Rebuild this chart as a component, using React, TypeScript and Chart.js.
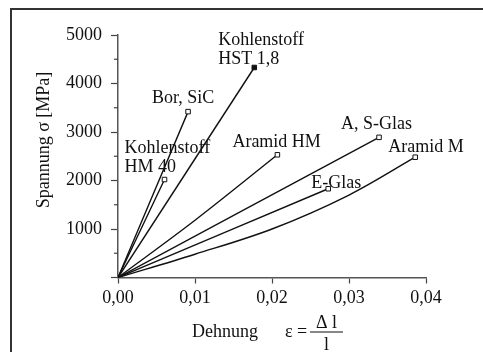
import React, { useEffect, useRef } from 'react';
import { Chart, registerables } from 'chart.js';

Chart.register(...registerables);

// ---- data ----
const strainTicks = [0, 0.01, 0.02, 0.03, 0.04];
const stressTicks = [0, 1000, 2000, 3000, 4000, 5000];
const stressMinorTicks = [500, 1500, 2500, 3500, 4500];

const hm40Strain = [0, 0.00604];
const hm40Stress = [0, 2020];

const borStrain = [0, 0.0091];
const borStress = [0, 3420];

const hstStrain = [0, 0.0177];
const hstStress = [0, 4330];

const aramidHmStrain = [0, 0.01, 0.0207];
const aramidHmStress = [0, 1180, 2530];

const asGlasStrain = [0, 0.0339];
const asGlasStress = [0, 2890];

const eGlasStrain = [0, 0.0273];
const eGlasStress = [0, 1830];

const aramidMStrain = [0, 0.01, 0.02, 0.03, 0.0386];
const aramidMStress = [0, 480, 1000, 1700, 2480];

const seriesLabels = [
  ['Kohlenstoff', 'HM 40'],
  ['Bor, SiC'],
  ['Kohlenstoff', 'HST 1,8'],
  ['Aramid HM'],
  ['A, S-Glas'],
  ['E-Glas'],
  ['Aramid M'],
];

const yTitle = 'Spannung σ [MPa]';
const xTitle = 'Dehnung';
const xFormulaLeft = 'ε =';
const xFormulaNum = 'Δ l';
const xFormulaDen = 'l';

// ---- styles / layout ----
const FONT = '"Liberation Serif", "Times New Roman", serif';
const FS = 18;
// label offsets (dx, dy of each line's baseline) relative to the series end point
const labelOffsets = [
  [[-40, -27], [-40, -8]],
  [[-36, -9]],
  [[-36, -22], [-36, -3]],
  [[-45, -8]],
  [[-38, -8]],
  [[-17, -1]],
  [[-27, -5]],
];
const filledMarker = [false, false, true, false, false, false, false];

function pts(xs: number[], ys: number[]) {
  return xs.map((x, i) => ({ x, y: ys[i] }));
}

const seriesData = [
  pts(hm40Strain, hm40Stress),
  pts(borStrain, borStress),
  pts(hstStrain, hstStress),
  pts(aramidHmStrain, aramidHmStress),
  pts(asGlasStrain, asGlasStress),
  pts(eGlasStrain, eGlasStress),
  pts(aramidMStrain, aramidMStress),
];

const decorPlugin = {
  id: 'decor',
  beforeDraw(chart: any) {
    const { ctx, width, height } = chart;
    ctx.save();
    ctx.fillStyle = '#fff';
    ctx.fillRect(0, 0, width, height);
    // frame
    ctx.strokeStyle = '#333';
    ctx.lineWidth = 2;
    ctx.beginPath();
    ctx.moveTo(11, height);
    ctx.lineTo(11, 9);
    ctx.lineTo(width, 9);
    ctx.stroke();
    ctx.restore();
  },
  afterDraw(chart: any) {
    const { ctx } = chart;
    const xs = chart.scales.x;
    const ys = chart.scales.y;
    ctx.save();
    // minor ticks
    ctx.strokeStyle = '#444';
    ctx.lineWidth = 1.2;
    const x0 = xs.getPixelForValue(0);
    stressMinorTicks.forEach((v) => {
      const y = ys.getPixelForValue(v);
      ctx.beginPath();
      ctx.moveTo(x0 - 4, y);
      ctx.lineTo(x0, y);
      ctx.stroke();
    });
    // series labels
    ctx.fillStyle = '#111';
    ctx.font = `${FS}px ${FONT}`;
    ctx.textAlign = 'left';
    ctx.textBaseline = 'alphabetic';
    chart.data.datasets.forEach((ds: any, i: number) => {
      const meta = chart.getDatasetMeta(i);
      const last = meta.data[meta.data.length - 1];
      seriesLabels[i].forEach((line, j) => {
        const [dx, dy] = labelOffsets[i][j];
        ctx.fillText(line, last.x + dx, last.y + dy);
      });
    });
    // y title
    ctx.save();
    ctx.translate(44, 140);
    ctx.rotate(-Math.PI / 2);
    ctx.textAlign = 'center';
    ctx.textBaseline = 'middle';
    ctx.fillText(yTitle, 0, 0);
    ctx.restore();
    // x title
    ctx.textAlign = 'left';
    ctx.textBaseline = 'alphabetic';
    ctx.fillText(xTitle, 192, 337);
    ctx.fillText(xFormulaLeft, 285, 337);
    const fx0 = 310;
    const fx1 = 343;
    const fy = 332;
    ctx.strokeStyle = '#111';
    ctx.lineWidth = 1.2;
    ctx.beginPath();
    ctx.moveTo(fx0, fy);
    ctx.lineTo(fx1, fy);
    ctx.stroke();
    ctx.textAlign = 'center';
    ctx.fillText(xFormulaNum, (fx0 + fx1) / 2, 328);
    ctx.fillText(xFormulaDen, (fx0 + fx1) / 2, 350);
    ctx.restore();
  },
};

export default function App() {
  const ref = useRef<HTMLCanvasElement | null>(null);
  useEffect(() => {
    if (!ref.current) return;
    const chart = new Chart(ref.current, {
      type: 'scatter',
      data: {
        datasets: seriesData.map((d, i) => ({
          label: seriesLabels[i].join(' '),
          data: d,
          showLine: true,
          borderColor: '#111',
          borderWidth: 1.4,
          tension: 0.35,
          pointStyle: 'rect' as const,
          pointRadius: (c: any) => (c.dataIndex === d.length - 1 ? 3.2 : 0),
          pointBorderColor: '#111',
          pointBorderWidth: 1,
          pointBackgroundColor: filledMarker[i] ? '#111' : '#fff',
        })),
      },
      plugins: [decorPlugin],
      options: {
        animation: false,
        responsive: true,
        maintainAspectRatio: false,
        layout: { padding: { top: 35, right: 57, bottom: 0, left: 0 } },
        plugins: { legend: { display: false }, tooltip: { enabled: false } },
        scales: {
          x: {
            type: 'linear',
            min: 0,
            max: 0.04,
            afterBuildTicks: (s: any) => {
              s.ticks = strainTicks.map((v) => ({ value: v }));
            },
            afterFit: (s: any) => {
              s.height = 74.5;
            },
            ticks: {
              callback: (v: any) => Number(v).toFixed(2).replace('.', ','),
              color: '#111',
              font: { family: FONT, size: FS },
              padding: 4,
              maxRotation: 0,
            },
            grid: {
              display: true,
              drawOnChartArea: false,
              drawTicks: true,
              tickLength: 6,
              tickColor: '#444',
              tickWidth: 1.2,
            },
            border: { display: true, color: '#555', width: 1.5 },
          },
          y: {
            type: 'linear',
            min: 0,
            max: 5000,
            afterBuildTicks: (s: any) => {
              s.ticks = stressTicks.map((v) => ({ value: v }));
            },
            afterFit: (s: any) => {
              s.width = 118;
            },
            ticks: {
              callback: (v: any) => (Number(v) === 0 ? '' : String(v)),
              color: '#111',
              font: { family: FONT, size: FS },
              padding: 9,
            },
            grid: {
              display: true,
              drawOnChartArea: false,
              drawTicks: true,
              tickLength: 7,
              tickColor: '#444',
              tickWidth: 1.2,
            },
            border: { display: true, color: '#555', width: 1.5 },
          },
        },
      },
    });
    return () => chart.destroy();
  }, []);
  return (
    <div style={{ position: 'fixed', left: 0, top: 0, width: 483, height: 352, background: '#fff' }}>
      <canvas ref={ref} />
    </div>
  );
}
